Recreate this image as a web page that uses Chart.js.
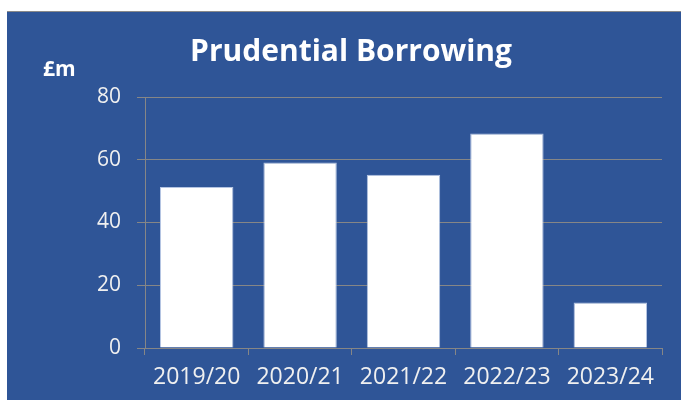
<!DOCTYPE html>
<html>
<head>
<meta charset="utf-8">
<script src="https://cdn.jsdelivr.net/npm/chart.js@4"></script>
<style>
  html, body { margin: 0; padding: 0; background: #fff; overflow: hidden; width: 681px; height: 400px; }
  #box { position: absolute; left: 7px; top: 11px; width: 688px; height: 389px; background: #2f5597; border-top: 1px solid #8a8a8a; }
  canvas { display: block; }
</style>
</head>
<body>
<div id="box"><canvas id="chart" width="688" height="388"></canvas></div>
<script>
const years = ['2019/20', '2020/21', '2021/22', '2022/23', '2023/24'];
const borrowing = [51.3, 59.1, 55.2, 68.4, 14.5];
const yTicks = [0, 20, 40, 60, 80];
const chartTitle = 'Prudential Borrowing';
const unit = '£m';

// title centred on the whole box, plus the unit label above the y axis
const headings = {
  id: 'headings',
  afterDraw(chart) {
    const ctx = chart.ctx;
    ctx.save();
    ctx.fillStyle = '#ffffff';
    ctx.textBaseline = 'middle';
    ctx.textAlign = 'center';
    ctx.font = 'bold 30px "Open Sans"';
    ctx.fillText(chartTitle, chart.width / 2, 40);
    ctx.textAlign = 'left';
    ctx.font = 'bold 21px "Open Sans"';
    ctx.fillText(unit, 36, 58);
    ctx.restore();
  }
};

const ctx = document.getElementById('chart').getContext('2d');
new Chart(ctx, {
  type: 'bar',
  data: {
    labels: years,
    datasets: [{
      data: borrowing,
      backgroundColor: '#ffffff',
      borderColor: '#b4c4e2',
      borderWidth: 1,
      barPercentage: 0.71,
      categoryPercentage: 1
    }]
  },
  options: {
    responsive: false,
    animation: false,
    layout: { padding: { left: 0, right: 33, top: 85, bottom: 0 } },
    plugins: {
      legend: { display: false },
      tooltip: { enabled: false },
      title: { display: false }
    },
    scales: {
      x: {
        grid: { display: true, drawOnChartArea: false, drawTicks: true, tickLength: 7, color: '#868686', offset: true },
        border: { color: '#868686' },
        ticks: { color: '#f0f0f0', font: { family: 'Open Sans', size: 23 }, padding: 9, maxRotation: 0 },
        afterFit(scale) { scale.height = 52; }
      },
      y: {
        min: 0,
        max: 80,
        afterBuildTicks(scale) { scale.ticks = yTicks.map(v => ({ value: v })); },
        grid: { color: '#868686', tickLength: 8 },
        border: { color: '#868686' },
        ticks: { color: '#f0f0f0', font: { family: 'Open Sans', size: 21 }, padding: 16 },
        afterFit(scale) { scale.width = 138; }
      }
    }
  },
  plugins: [headings]
});
</script>
</body>
</html>
